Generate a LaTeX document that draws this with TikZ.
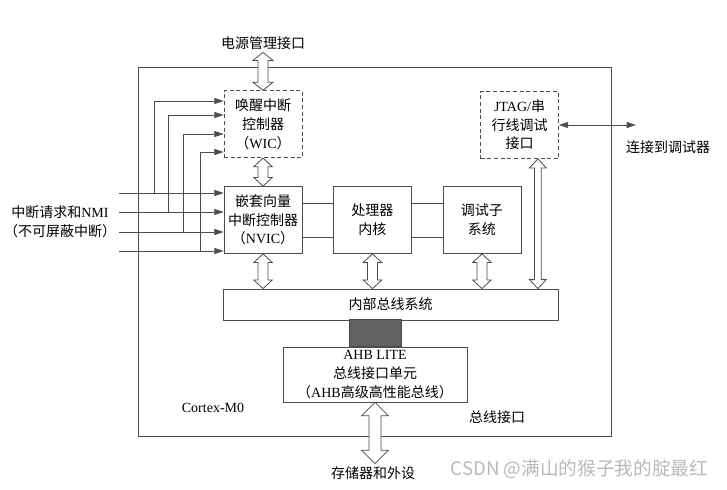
\documentclass[tikz,border=0pt]{standalone}
\usepackage{fontspec}
\setmainfont{Liberation Serif}
\newfontfamily\cjk{Noto Sans CJK SC}
\newcommand{\zh}[1]{{\cjk #1}}
\usetikzlibrary{arrows.meta,positioning,calc}
\definecolor{linegray}{gray}{0.3}
\definecolor{linkgray}{gray}{0.38}
\newcommand{\hollowarr}[5]{%
  \draw[hollow] let \p1=(#1), \p2=(#2) in
    (\x1,\y1) -- (\x1+#4,\y1-#5) -- (\x1+#3,\y1-#5) -- (\x1+#3,\y2+#5)
    -- (\x1+#4,\y2+#5) -- (\x1,\y2) -- (\x1-#4,\y2+#5) -- (\x1-#3,\y2+#5)
    -- (\x1-#3,\y1-#5) -- (\x1-#4,\y1-#5) -- cycle;}

\begin{document}
\begin{tikzpicture}[x=0.75pt, y=-0.75pt, >={Triangle[length=7pt,width=4.5pt]}, every node/.style={font=\fontsize{10.5}{14}\selectfont}, box/.style={draw=linegray,line width=0.6pt,align=center,minimum width=58.5pt,minimum height=50.25pt,inner sep=1pt}, dbox/.style={box,dash pattern=on 3pt off 2pt}, frame/.style={draw=linegray,line width=0.6pt,minimum width=354.75pt,minimum height=276.75pt}, sig/.style={draw=linegray,line width=0.6pt}, hollow/.style={draw=linegray,fill=white,line width=0.6pt}, link/.style={draw=linegray,fill=linkgray,line width=0.6pt,minimum width=39pt,minimum height=20.25pt}]
\useasboundingbox (0,0) rectangle (727,489);
\node[frame] (cm0) at (374.5,251.5) {};
\node[box] (nvic) at (263,220) {\zh{嵌套向量}\\\zh{中断控制器}\\\zh{（}NVIC\zh{）}};
\node[box, right=23pt of nvic] (proc) {\zh{处理器}\\\zh{内核}};
\node[box, right=23pt of proc] (dbg) {\zh{调试子}\\\zh{系统}};
\node[dbox, above=21pt of nvic] (wic) {\zh{唤醒中断}\\\zh{控制器}\\\zh{（}WIC\zh{）}};
\node[dbox] (jtag) at (519.5,125) {JTAG/\zh{串}\\\zh{行线调试}\\\zh{接口}};
\node[box, minimum width=251.25pt, minimum height=23.25pt] (bus) at (390.5,304.5) {\zh{内部总线系统}};
\node[box, minimum width=138pt, minimum height=41.25pt] (ahb) at (375,374.5) {AHB LITE\\\zh{总线接口单元}\\\zh{（}AHB\zh{高级高性能总线）}};
\node[link, above=0pt of ahb] (lnk) {};
\node[inner sep=2pt] (pwr) at (263,43) {\zh{电源管理接口}};
\node[inner sep=2pt] (mem) at (373,473) {\zh{存储器和外设}};
\node (dbgr) at (668,147) {\zh{连接到调试器}};
\node[align=center] (irq) at (60,221.5) {\zh{中断请求和}NMI\\\zh{（不可屏蔽中断）}};
\node (cm0lbl) at (213,408) {Cortex-M0};
\node (buslbl) at (497,417) {\zh{总线接口}};
\node[anchor=east, text=gray!55, font=\cjk\fontsize{14}{16}\selectfont] (wm) at (713,469) {CSDN @满山的猴子我的腚最红};
\foreach \i/\yy/\bx/\wy in {1/193/154/101, 2/212/168/115, 3/232/183/134, 4/251/200/152} {
  \coordinate (irq\i) at (119,\yy);
  \coordinate (br\i) at (\bx,\yy);
  \coordinate (wk\i) at (\bx,\wy);
  \draw[sig,->] (irq\i) -- (irq\i -| nvic.west);
  \draw[sig,->] (br\i) -- (wk\i) -- (wk\i -| wic.west);
}
\foreach \dy in {12.75pt,-12.75pt} {
  \draw[sig] ([yshift=\dy]nvic.east) -- ([yshift=\dy]proc.west);
  \draw[sig] ([yshift=\dy]proc.east) -- ([yshift=\dy]dbg.west);
}
\coordinate (dbgend) at (636,125);
\draw[sig,<->] (jtag) -- (dbgend);
\hollowarr{pwr.south}{wic.north}{3.75pt}{7.5pt}{6pt}
\hollowarr{wic.south}{nvic.north}{3.75pt}{7pt}{6.5pt}
\hollowarr{nvic.south}{bus.north}{3.75pt}{7pt}{6.5pt}
\hollowarr{proc.south}{bus.north}{3.75pt}{7pt}{6.5pt}
\hollowarr{dbg.south}{bus.north}{3.75pt}{7pt}{6.5pt}
\hollowarr{[xshift=-15.75pt]jtag.south east}{bus.north}{2.5pt}{6.25pt}{6.75pt}
\hollowarr{ahb.south}{mem.north}{4.5pt}{10pt}{10pt}
\end{tikzpicture}
\end{document}
